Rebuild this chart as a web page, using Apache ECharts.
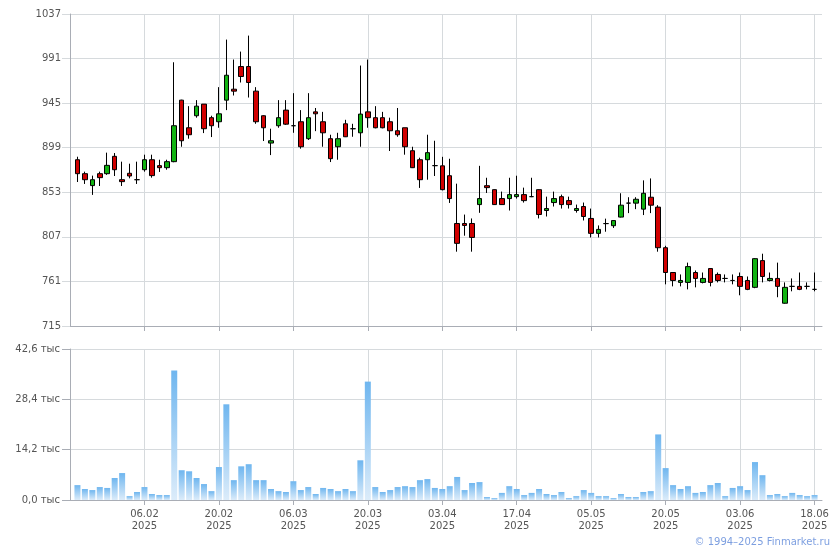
<!DOCTYPE html>
<html><head><meta charset="utf-8">
<script src="https://cdn.jsdelivr.net/npm/echarts@6/dist/echarts.min.js"></script>
<style>html,body{margin:0;padding:0;background:#fff}#c{width:840px;height:550px}</style>
</head><body><div id="c"></div>
<script>
const dates = [
'24.01','27.01','28.01','29.01','30.01','31.01','03.02','04.02','05.02','06.02',
'07.02','10.02','11.02','12.02','13.02','14.02','17.02','18.02','19.02','20.02',
'21.02','24.02','25.02','26.02','27.02','28.02','03.03','04.03','05.03','06.03',
'07.03','10.03','11.03','12.03','13.03','14.03','17.03','18.03','19.03','20.03',
'21.03','24.03','25.03','26.03','27.03','28.03','31.03','01.04','02.04','03.04',
'04.04','07.04','08.04','09.04','10.04','11.04','14.04','15.04','16.04','17.04',
'18.04','21.04','22.04','23.04','24.04','25.04','28.04','29.04','30.04','05.05',
'06.05','07.05','08.05','12.05','13.05','14.05','15.05','16.05','19.05','20.05',
'21.05','22.05','23.05','26.05','27.05','28.05','29.05','30.05','02.06','03.06',
'04.06','05.06','06.06','09.06','10.06','11.06','13.06','16.06','17.06','18.06'];
const year = '2025';
const opens = [
886.6,872.2,859.9,872.2,872.2,890.1,866.0,872.6,866.0,876.3,
886.6,880.5,878.4,884.6,948.1,919.6,932.0,944.0,930.0,925.8,
948.1,959.4,982.8,982.8,957.4,932.0,903.8,921.7,937.8,921.7,
925.8,908.3,936.0,925.8,908.3,900.0,923.7,918.6,914.4,936.0,
930.0,930.0,925.8,916.5,919.6,895.9,886.6,886.6,880.5,880.3,
870.1,820.8,820.8,820.8,840.3,859.8,855.7,846.5,846.5,848.5,
850.6,848.5,855.7,834.2,842.4,848.5,844.4,834.2,838.3,826.0,
810.6,820.7,818.5,827.4,841.8,841.8,835.6,847.9,837.7,795.8,
770.2,760.0,760.0,770.2,760.0,774.3,768.2,764.1,762.0,766.1,
762.0,754.9,782.5,762.0,764.1,738.5,755.9,755.9,755.9,752.8];
const closes = [
872.2,866.0,866.0,868.1,880.8,876.3,864.0,869.8,866.0,886.6,
870.2,878.4,884.6,921.7,906.2,912.4,941.9,918.6,921.7,934.0,
973.8,957.4,972.5,966.3,925.8,919.6,906.2,930.0,923.3,921.7,
900.0,930.0,934.0,914.4,887.7,908.3,910.3,918.6,933.7,930.0,
919.6,919.6,916.5,912.4,900.0,878.4,866.0,893.9,880.5,855.7,
846.5,800.3,818.8,806.4,846.5,857.8,840.3,840.3,850.6,850.6,
844.4,848.5,830.1,836.2,846.5,840.3,840.3,836.2,828.0,810.6,
814.7,820.7,823.8,839.7,841.8,845.8,852.0,839.7,795.8,770.2,
762.0,762.0,776.3,764.1,764.1,760.0,762.0,764.1,762.0,755.9,
752.8,784.5,766.1,764.1,755.9,754.9,755.9,752.8,755.9,752.8];
const lows = [
863.6,861.6,850.3,859.5,871.0,869.8,859.5,867.4,861.6,874.3,
868.1,874.0,876.3,884.0,900.0,908.3,930.0,914.1,910.0,919.6,
937.8,952.9,966.3,950.8,923.7,905.9,891.4,919.6,922.5,914.4,
898.0,907.0,916.1,900.0,884.2,886.6,910.0,910.3,900.0,919.6,
919.0,919.0,895.6,910.3,891.8,878.0,857.5,866.0,869.8,855.0,
842.0,791.7,808.2,791.7,831.8,852.3,840.0,840.0,834.2,846.5,
842.4,848.0,826.0,828.0,838.3,836.2,836.2,832.0,823.9,806.4,
806.4,812.3,816.2,827.0,831.5,835.6,829.5,831.5,791.7,758.0,
755.9,755.9,752.8,754.9,759.0,755.9,760.0,760.0,758.0,746.7,
752.0,754.0,760.0,761.0,744.7,738.0,750.8,752.0,752.8,750.8];
const highs = [
889.7,874.3,870.2,874.3,893.9,893.5,884.6,882.5,884.6,891.8,
891.8,886.6,886.6,987.2,948.5,941.9,948.1,944.0,932.0,961.5,
1010.6,990.0,998.2,1014.7,961.5,932.5,918.6,948.1,948.1,955.3,
937.8,955.3,940.0,936.0,912.4,914.4,927.8,923.7,983.8,990.0,
941.9,936.0,930.0,940.0,919.6,900.0,888.7,912.4,906.2,889.6,
887.6,861.9,830.0,826.0,880.3,868.0,856.0,853.7,868.0,870.1,
857.8,868.0,856.0,848.5,853.7,850.6,848.5,840.3,842.4,836.2,
818.8,825.8,824.0,852.0,847.9,847.9,865.3,867.3,839.7,797.8,
770.5,768.2,780.4,772.3,770.2,774.5,770.2,768.2,768.2,770.2,
766.1,785.0,789.6,770.2,780.4,760.0,764.1,770.2,760.0,770.2];
const volumes = [
4200,3100,2800,3650,3400,6200,7600,1100,2250,3650,
1700,1400,1400,36500,8400,8100,6200,4500,2500,9300,
27000,5600,9500,10100,5600,5600,3100,2500,2250,5300,
2800,3650,1700,3400,3100,2500,3100,2500,11200,33400,
3650,2250,2800,3650,3900,3650,5600,5900,3400,3100,
3900,6500,2800,4800,5050,850,550,2000,3900,3100,
1400,2000,3100,1700,1400,2250,550,1100,2800,2000,
1100,1100,550,1700,850,850,2250,2500,18500,9000,
4200,3100,3900,2000,2250,4200,4800,1100,3400,3900,
2800,10700,7000,1400,1700,1100,2000,1400,1100,1400];
const priceMin = 715, priceMax = 1037, priceStep = 46;
const volMin = 0, volMax = 42600, volStep = 14200;
const copyright = '© 1994–2025 Finmarket.ru';

// padded category axis (one empty slot on each side)
const cats = [''].concat(dates, ['']);
const candleData = ['-'].concat(dates.map((d, i) => [opens[i], closes[i], lows[i], highs[i]]), ['-']);
const volData = ['-'].concat(volumes, ['-']);
const isLabelIdx = (idx) => idx >= 10 && idx <= 100 && idx % 10 === 0;

const gridColor = '#d6dadd';
const axisColor = '#a9adb5';
const font = 'DejaVu Sans';

const chart = echarts.init(document.getElementById('c'), null, {renderer: 'canvas'});
chart.setOption({
  animation: false,
  backgroundColor: '#ffffff',
  grid: [
    {left: 70, top: 14, width: 752, height: 312},
    {left: 70, top: 349, width: 752, height: 151}
  ],
  xAxis: [
    {type: 'category', gridIndex: 0, data: cats, boundaryGap: false,
     axisLine: {show: true, lineStyle: {color: axisColor}},
     axisTick: {show: true, length: 5, interval: isLabelIdx, lineStyle: {color: axisColor}},
     axisLabel: {show: false},
     splitLine: {show: true, interval: isLabelIdx, lineStyle: {color: gridColor}}},
    {type: 'category', gridIndex: 1, data: cats, boundaryGap: false,
     axisLine: {show: true, lineStyle: {color: axisColor}},
     axisTick: {show: true, length: 5, interval: isLabelIdx, lineStyle: {color: axisColor}},
     axisLabel: {show: true, interval: isLabelIdx, margin: 8, color: '#555', fontFamily: font, fontSize: 10, lineHeight: 12,
                 formatter: (v) => v ? v + '\n' + year : ''},
     splitLine: {show: true, interval: isLabelIdx, lineStyle: {color: gridColor}}}
  ],
  yAxis: [
    {type: 'value', gridIndex: 0, min: priceMin, max: priceMax, interval: priceStep,
     axisLine: {show: true, lineStyle: {color: axisColor}},
     axisTick: {show: true, length: 8, lineStyle: {color: gridColor}},
     axisLabel: {margin: 9, color: '#555', fontFamily: font, fontSize: 10, formatter: (v) => String(v)},
     splitLine: {show: true, lineStyle: {color: gridColor}}},
    {type: 'value', gridIndex: 1, min: volMin, max: volMax, interval: volStep,
     axisLine: {show: true, lineStyle: {color: axisColor}},
     axisTick: {show: true, length: 8, lineStyle: {color: axisColor}},
     axisLabel: {margin: 10, color: '#555', fontFamily: font, fontSize: 10,
                 formatter: (v) => (v / 1000).toFixed(1).replace('.', ',') + ' тыс'},
     splitLine: {show: true, lineStyle: {color: gridColor}}}
  ],
  series: [
    {type: 'candlestick', xAxisIndex: 0, yAxisIndex: 0, data: candleData, barWidth: 5,
     itemStyle: {color: '#12b312', color0: '#d10000', borderColor: '#000', borderColor0: '#000', borderWidth: 1}},
    {type: 'bar', xAxisIndex: 1, yAxisIndex: 1, data: volData, barWidth: 6,
     itemStyle: {color: new echarts.graphic.LinearGradient(0, 0, 0, 1, [
       {offset: 0, color: '#6fb6ef'}, {offset: 1, color: '#dcecfa'}])}}
  ],
  graphic: [
    {type: 'text', right: 10, top: 537,
     style: {text: copyright, fill: '#7d9fe0', font: '10px "DejaVu Sans"'}}
  ]
});
</script></body></html>
